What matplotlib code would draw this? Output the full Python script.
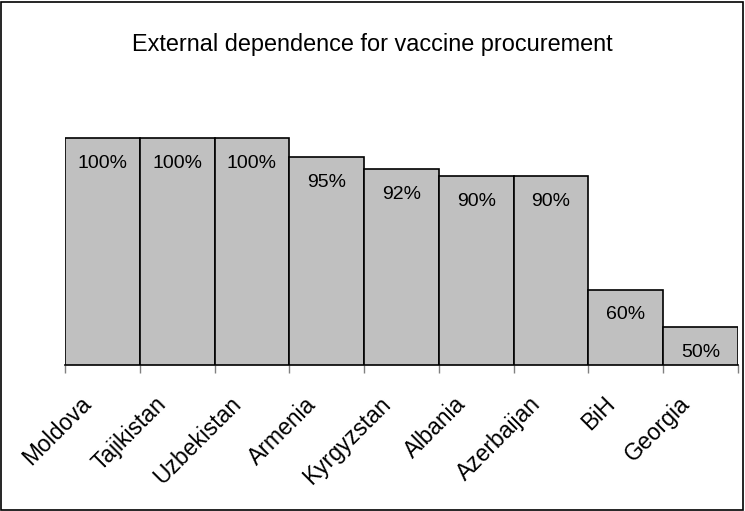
import matplotlib

matplotlib.use("Agg")
import matplotlib.pyplot as plt  # noqa: E402
from matplotlib.patches import Rectangle  # noqa: E402

plt.rcParams["font.family"] = ["Liberation Sans", "DejaVu Sans"]

countries = ["Moldova", "Tajikistan", "Uzbekistan", "Armenia", "Kyrgyzstan",
             "Albania", "Azerbaijan", "BiH", "Georgia"]
dependence = [100, 100, 100, 95, 92, 90, 90, 60, 50]

fig = plt.figure(figsize=(7.45, 5.11), dpi=100)
ax = fig.add_axes([65 / 745, 1 - 365 / 511, 673 / 745, 302 / 511])

xs = list(range(len(countries)))
ax.bar(xs, dependence, width=1.0, color="#c0c0c0", edgecolor="black", linewidth=1.2)
for x, v in zip(xs, dependence):
    ax.annotate(f"{v}%", (x, v), textcoords="offset points", xytext=(0, -21.5),
                ha="center", va="baseline", fontsize=14)

ax.set_xlim(-0.5, len(countries) - 0.5)
ax.set_ylim(40, 120)
ax.yaxis.set_visible(False)
for side in ("left", "right", "top"):
    ax.spines[side].set_visible(False)
ax.spines["bottom"].set_linewidth(1.2)

ax.set_xticks([x - 0.5 for x in range(len(countries) + 1)])
ax.set_xticklabels([])
ax.tick_params(axis="x", length=6, color="#808080", width=1)
for x, name in zip(xs, countries):
    ax.annotate(name, (x, 0), xycoords=("data", "axes fraction"),
                textcoords="offset points", xytext=(-7, -29), rotation=45,
                rotation_mode="anchor", ha="right", va="baseline", fontsize=16.5)

fig.text(372 / 745, 1 - 45 / 511, "External dependence for vaccine procurement",
         ha="center", va="center", fontsize=16.9)
fig.patches.append(Rectangle((1 / 745, 1 / 511), 742 / 745, 508 / 511,
                             transform=fig.transFigure, fill=False,
                             edgecolor="black", linewidth=1.2))

fig.savefig("out.png", dpi=100)
